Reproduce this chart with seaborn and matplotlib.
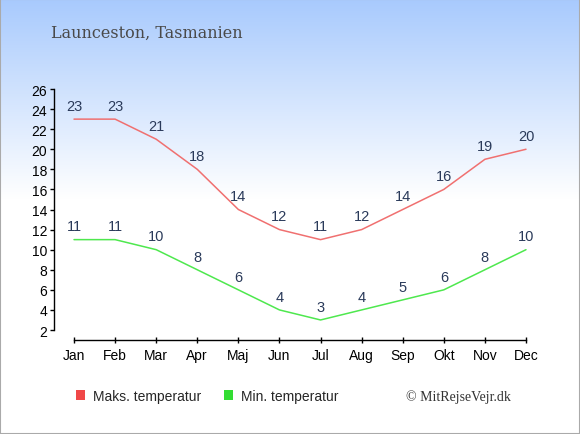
import numpy as np
import pandas as pd
import seaborn as sns
import matplotlib
matplotlib.use('Agg')
import matplotlib.pyplot as plt
from matplotlib.patches import Patch, Rectangle

# data
months = ['Jan', 'Feb', 'Mar', 'Apr', 'Maj', 'Jun', 'Jul', 'Aug', 'Sep', 'Okt', 'Nov', 'Dec']
max_temp = [23, 23, 21, 18, 14, 12, 11, 12, 14, 16, 19, 20]
min_temp = [11, 11, 10, 8, 6, 4, 3, 4, 5, 6, 8, 10]
yticks = list(range(2, 27, 2))

sns.set_theme(style='ticks')
plt.rcParams['font.family'] = ['Liberation Sans', 'DejaVu Sans']

fig = plt.figure(figsize=(5.8, 4.35), dpi=100)

# gradient background (light blue at top fading to white)
bg = fig.add_axes([0, 0, 1, 1], zorder=-10)
grad = np.linspace(0, 1, 435)
top = np.array([168, 202, 253]) / 255.0
fade = np.clip(grad / (200 / 435), 0, 1)
img = top[None, :] + (1 - top[None, :]) * fade[:, None]
img = np.repeat(img[:, None, :], 2, axis=1)
bg.imshow(img, aspect='auto', extent=[0, 1, 0, 1], origin='upper')
bg.set_axis_off()

# main axes; Jan at x=74px, Dec at x=526px, y 2 -> 331px, 26 -> 90px
ax = fig.add_axes([54 / 580, 1 - 341 / 435, (536 - 54) / 580, (341 - 90) / 435])
ax.patch.set_alpha(0)

df = pd.DataFrame({'month': months, 'max': max_temp, 'min': min_temp})
sns.lineplot(data=df, x='month', y='max', color='#f07070', linewidth=1.1, ax=ax, sort=False)
sns.lineplot(data=df, x='month', y='min', color='#4ee84e', linewidth=1.1, ax=ax, sort=False)

px_unit = (526 - 74) / 11
ax.set_xlim(-20 / px_unit, 11 + 10 / px_unit)
ax.set_ylim(2 - 10 * 2 / 20.1, 26)

for i, v in enumerate(max_temp):
    ax.annotate(str(v), (i, v), xytext=(0, 9.5), textcoords='offset points',
                ha='center', va='center', fontsize=10.5, color='#2a3a5a')
for i, v in enumerate(min_temp):
    ax.annotate(str(v), (i, v), xytext=(0, 9.5), textcoords='offset points',
                ha='center', va='center', fontsize=10.5, color='#2a3a5a')

ax.set_yticks(yticks)
ax.set_xticks(range(len(months)))
ax.set_xticklabels(months)
ax.set_xlabel('')
ax.set_ylabel('')
ax.grid(False)
for s in ['top', 'right']:
    ax.spines[s].set_visible(False)
ax.spines['left'].set_bounds(2, 26)
ax.spines['bottom'].set_bounds(0, 11)
for s in ['left', 'bottom']:
    ax.spines[s].set_color('black')
    ax.spines[s].set_linewidth(1)
ax.tick_params(axis='y', direction='out', length=3, width=1, color='black',
               labelsize=10, labelcolor='black', pad=2)
ax.tick_params(axis='x', direction='inout', length=5, width=1, color='black',
               labelsize=10, labelcolor='black', pad=3)

# title
fig.text(51 / 580, 1 - 33 / 435, 'Launceston, Tasmanien', family='DejaVu Serif',
         fontsize=11.5, color='#4a4a4a', va='center', ha='left')

# legend
handles = [Patch(facecolor='#f04848', edgecolor='none'),
           Patch(facecolor='#33dd33', edgecolor='none')]
fig.legend(handles, ['Maks. temperatur', 'Min. temperatur'], loc='center left',
           bbox_to_anchor=(76 / 580, 1 - 397 / 435), ncol=2, frameon=False,
           handlelength=0.65, handleheight=0.65, handletextpad=0.6,
           columnspacing=1.6, borderpad=0, borderaxespad=0, fontsize=10)

fig.text(406 / 580, 1 - 397 / 435, '© MitRejseVejr.dk', family='Liberation Serif',
         fontsize=10, color='#333333', va='center', ha='left')

# thin grey frame around the figure
fig.patches.append(Rectangle((0, 0), 1, 1, transform=fig.transFigure, fill=False,
                             edgecolor='#aaaaaa', linewidth=1.5))

fig.savefig('out.png', dpi=100)
